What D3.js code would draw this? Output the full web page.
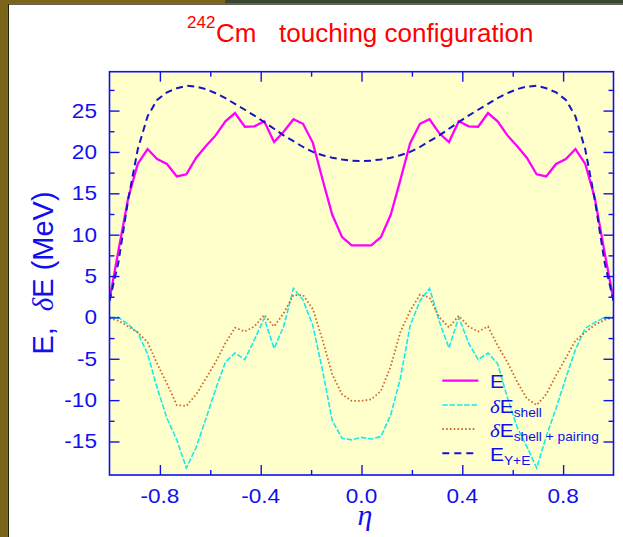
<!DOCTYPE html>
<html>
<head>
<meta charset="utf-8">
<script src="https://cdn.jsdelivr.net/npm/d3@7"></script>
<style>
  body { margin: 0; background: #fff; }
  svg { display: block; }
</style>
</head>
<body>
<svg id="chart" width="623" height="537"></svg>
<script>
// mass asymmetry grid (step ~0.0386) plus the two end points
const eta = [-1, -0.965, -0.926, -0.888, -0.849, -0.811, -0.772, -0.733, -0.695, -0.656, -0.618,
  -0.579, -0.540, -0.502, -0.463, -0.425, -0.386, -0.347, -0.309, -0.270, -0.232, -0.193,
  -0.154, -0.116, -0.077, -0.039, 0, 0.039, 0.077, 0.116, 0.154, 0.193, 0.232, 0.270, 0.309,
  0.347, 0.386, 0.425, 0.463, 0.502, 0.540, 0.579, 0.618, 0.656, 0.695, 0.733, 0.772, 0.811,
  0.849, 0.888, 0.926, 0.965, 1];

const energyE = [2.1, 8.0, 14.4, 18.55, 20.35, 19.15, 18.55, 17.05, 17.3, 19.3, 20.7, 22.0, 23.7,
  24.7, 23.05, 23.1, 23.7, 21.2, 22.45, 23.95, 23.4, 21.1, 16.6, 12.4, 9.7, 8.7, 8.7,
  8.7, 9.7, 12.4, 16.6, 21.05, 23.4, 23.95, 22.25, 21.2, 23.7, 23.1, 23.05, 24.7, 23.7, 22.0,
  20.7, 19.3, 17.3, 17.05, 18.55, 19.15, 20.35, 18.55, 14.4, 7.8, 2.1];

const energyYE = [2.0, 6.6, 14.2, 20.3, 24.3, 26.3, 27.2, 27.7, 28.0, 27.9, 27.6, 27.1, 26.5,
  25.8, 25.1, 24.4, 23.6, 22.8, 22.0, 21.3, 20.6, 20.0, 19.6, 19.3, 19.1, 18.95, 18.9,
  18.95, 19.1, 19.3, 19.6, 20.0, 20.6, 21.3, 22.0, 22.8, 23.6, 24.4, 25.1, 25.8, 26.5, 27.1,
  27.6, 27.9, 28.0, 27.7, 27.2, 26.3, 24.3, 20.3, 14.2, 6.6, 2.0];

const shellDE = [0.0, 0.0, -0.85, -1.85, -4.4, -8.5, -12.2, -14.8, -18.2, -15.7, -12.3, -8.7, -5.4,
  -4.3, -5.1, -2.7, -0.1, -3.75, -1.1, 3.5, 2.1, -1.0, -6.5, -12.5, -14.6, -14.8, -14.5,
  -14.7, -14.4, -11.8, -7.4, -1.0, 2.0, 3.5, -0.5, -3.7, 0.0, -3.1, -5.1, -4.3, -5.6, -9.7,
  -13.3, -15.6, -18.2, -14.4, -11.0, -7.3, -3.9, -1.3, -0.6, 0.0, 0.0];

const shellPairDE = [-0.1, -0.4, -1.1, -1.8, -3.0, -5.6, -8.0, -10.6, -10.7, -9.3, -7.4, -5.4, -3.1,
  -1.25, -1.7, -1.1, 0.3, -1.1, 0.5, 2.7, 2.7, 1.0, -2.8, -6.9, -9.3, -10.1, -10.1,
  -9.9, -8.9, -5.9, -1.8, 0.8, 2.75, 2.4, 0.0, -1.2, 0.2, -1.1, -1.7, -1.1, -3.4, -5.4,
  -7.8, -9.8, -10.6, -9.3, -7.0, -4.9, -2.8, -1.8, -0.9, -0.3, 0.0];

const yMajor = [-15, -10, -5, 0, 5, 10, 15, 20, 25];
const yMinor = [-12.5, -7.5, -2.5, 2.5, 7.5, 12.5, 17.5, 22.5, 27.5];
const xMajor = [-0.8, -0.4, 0, 0.4, 0.8];
const xMinor = [-0.6, -0.2, 0.2, 0.6];

const blue = "#1010ee";
const font = "'Liberation Sans', Arial, Helvetica, sans-serif";
const serif = "'Liberation Serif', 'Times New Roman', serif";

const svg = d3.select("#chart");
const pLeft = 109.5, pRight = 613.5, pTop = 71.7, pBottom = 475;

const x = d3.scaleLinear().domain([-1, 1]).range([pLeft, pRight]);
const y = d3.scaleLinear().domain([-19.05, 29.7]).range([pBottom, pTop]);

// slide frame
svg.append("rect").attr("width", 623).attr("height", 537).attr("fill", "#fff");
svg.append("rect").attr("x", 0).attr("y", 0).attr("width", 7.5).attr("height", 537).attr("fill", "#7a651a");
svg.append("rect").attr("x", 7.5).attr("y", 4).attr("width", 1.5).attr("height", 533).attr("fill", "#23220f");
svg.append("rect").attr("x", 0).attr("y", 0).attr("width", 225).attr("height", 3.5).attr("fill", "#7a651a");
svg.append("rect").attr("x", 225).attr("y", 0).attr("width", 398).attr("height", 3.5).attr("fill", "#3b4631");
svg.append("rect").attr("x", 7.5).attr("y", 3.5).attr("width", 616).attr("height", 1.2).attr("fill", "#23220f");

// plot background
svg.append("rect")
    .attr("x", pLeft).attr("y", pTop)
    .attr("width", pRight - pLeft).attr("height", pBottom - pTop)
    .attr("fill", "#ffffcc");

svg.append("clipPath").attr("id", "clip")
  .append("rect")
    .attr("x", pLeft).attr("y", pTop)
    .attr("width", pRight - pLeft).attr("height", pBottom - pTop);

const series = [
  { name: "E", values: energyE, color: "#ff00ff", width: 2.3, dash: null },
  { name: "shell", values: shellDE, color: "#18eaea", width: 1.6, dash: "5.5,1.8" },
  { name: "pair", values: shellPairDE, color: "#d0692e", width: 1.8, dash: "1.6,2.2" },
  { name: "YE", values: energyYE, color: "#1414c8", width: 2, dash: "7,4.5" }
];

const line = d3.line()
    .x(d => x(d[0]))
    .y(d => y(d[1]));

const plot = svg.append("g").attr("clip-path", "url(#clip)");

plot.selectAll("path")
    .data(series)
    .enter().append("path")
    .attr("d", s => line(eta.map((e, i) => [e, s.values[i]])))
    .attr("fill", "none")
    .attr("stroke", s => s.color)
    .attr("stroke-width", s => s.width)
    .attr("stroke-dasharray", s => s.dash);

// ticks on all four sides, pointing inward
const tickStyle = g => {
    g.select(".domain").remove();
    g.selectAll("line").attr("stroke", blue).attr("stroke-width", 1.4);
    g.selectAll("text").remove();
};

svg.append("g").attr("transform", `translate(${pLeft},0)`)
    .call(d3.axisLeft(y).tickValues(yMajor).tickSize(-10)).call(tickStyle);
svg.append("g").attr("transform", `translate(${pLeft},0)`)
    .call(d3.axisLeft(y).tickValues(yMinor).tickSize(-5)).call(tickStyle);
svg.append("g").attr("transform", `translate(${pRight},0)`)
    .call(d3.axisRight(y).tickValues(yMajor).tickSize(-10)).call(tickStyle);
svg.append("g").attr("transform", `translate(${pRight},0)`)
    .call(d3.axisRight(y).tickValues(yMinor).tickSize(-5)).call(tickStyle);
svg.append("g").attr("transform", `translate(0,${pBottom})`)
    .call(d3.axisBottom(x).tickValues(xMajor).tickSize(-10)).call(tickStyle);
svg.append("g").attr("transform", `translate(0,${pBottom})`)
    .call(d3.axisBottom(x).tickValues(xMinor).tickSize(-5)).call(tickStyle);
svg.append("g").attr("transform", `translate(0,${pTop})`)
    .call(d3.axisTop(x).tickValues(xMajor).tickSize(-10)).call(tickStyle);
svg.append("g").attr("transform", `translate(0,${pTop})`)
    .call(d3.axisTop(x).tickValues(xMinor).tickSize(-5)).call(tickStyle);

svg.append("rect")
    .attr("x", pLeft).attr("y", pTop)
    .attr("width", pRight - pLeft).attr("height", pBottom - pTop)
    .attr("fill", "none")
    .attr("stroke", blue)
    .attr("stroke-width", 1.6);

// tick labels (the font in the original runs a little wide)
svg.selectAll(".ylab")
    .data(yMajor)
    .enter().append("text")
    .attr("class", "ylab")
    .attr("transform", d => `translate(97,${y(d) + 7}) scale(1.13,1)`)
    .attr("text-anchor", "end")
    .attr("font-family", font)
    .attr("font-size", 20)
    .attr("fill", blue)
    .text(d => String(d));

svg.selectAll(".xlab")
    .data(xMajor)
    .enter().append("text")
    .attr("class", "xlab")
    .attr("transform", d => `translate(${x(d)},503) scale(1.13,1)`)
    .attr("text-anchor", "middle")
    .attr("font-family", font)
    .attr("font-size", 20)
    .attr("fill", blue)
    .text(d => d.toFixed(1));

// axis titles
const yTitle = svg.append("text")
    .attr("transform", "translate(53,273) rotate(-90)")
    .attr("text-anchor", "middle")
    .attr("font-family", font)
    .attr("font-size", 29)
    .attr("fill", blue);
yTitle.append("tspan").text("E,");
yTitle.append("tspan").attr("dx", 16).attr("font-family", serif).attr("font-style", "italic").text("δ");
yTitle.append("tspan").text("E (MeV)");

svg.append("text")
    .attr("x", 365).attr("y", 525)
    .attr("text-anchor", "middle")
    .attr("font-family", serif)
    .attr("font-style", "italic")
    .attr("font-size", 30)
    .attr("fill", blue)
    .text("η");

// title
svg.append("text")
    .attr("x", 187).attr("y", 28.3)
    .attr("font-family", font).attr("font-size", 17)
    .attr("fill", "#ff0000")
    .text("242");
svg.append("text")
    .attr("x", 216).attr("y", 42.3)
    .attr("font-family", font).attr("font-size", 26)
    .attr("fill", "#ff0000")
    .text("Cm");
svg.append("text")
    .attr("x", 279).attr("y", 42.3)
    .attr("font-family", font).attr("font-size", 26)
    .attr("fill", "#ff0000")
    .text("touching configuration");

// legend
const legendRows = [
  { s: 0, lineY: 380.7, len: 36, delta: false, main: "E", sub: "" },
  { s: 1, lineY: 405, len: 36, delta: true, main: "E", sub: "shell" },
  { s: 2, lineY: 429, len: 34, delta: true, main: "E", sub: "shell + pairing" },
  { s: 3, lineY: 453.3, len: 31, delta: false, main: "E", sub: "Y+E" }
];

const legend = svg.append("g");
legendRows.forEach(r => {
    const s = series[r.s];
    legend.append("line")
        .attr("x1", 442.3).attr("x2", 442.3 + r.len)
        .attr("y1", r.lineY).attr("y2", r.lineY)
        .attr("stroke", s.color)
        .attr("stroke-width", s.width)
        .attr("stroke-dasharray", s.name === "YE" ? "7,5" : s.dash);

    const base = r.lineY + 7.5;
    const t = legend.append("text")
        .attr("transform", `translate(490,${base}) scale(1.1,1)`)
        .attr("font-family", font)
        .attr("font-size", 19)
        .attr("fill", blue);
    if (r.delta) {
        t.append("tspan").attr("font-family", serif).attr("font-style", "italic").text("δ");
    }
    t.append("tspan").text(r.main);
    if (r.sub) {
        t.append("tspan").attr("dy", 4.5).attr("font-size", 12.5).text(r.sub);
    }
});
</script>
</body>
</html>
